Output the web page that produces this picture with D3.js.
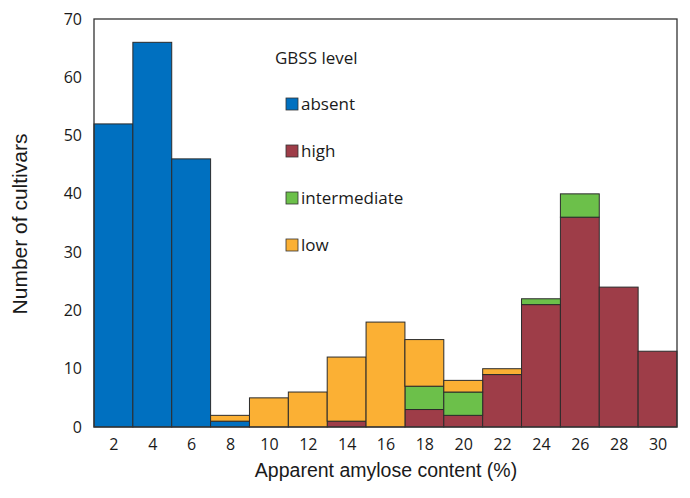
<!DOCTYPE html>
<html>
<head>
<meta charset="utf-8">
<script src="https://cdn.jsdelivr.net/npm/d3@7"></script>
<style>
  body { margin: 0; background: #fff; }
  text { fill: #1a1a1a; }
</style>
</head>
<body>
<svg id="chart" width="690" height="498"></svg>
<script>
// bin centres (amylose %) and counts per GBSS level
var bins = [2, 4, 6, 8, 10, 12, 14, 16, 18, 20, 22, 24, 26, 28, 30];
var absent       = [52, 66, 46, 1, 0, 0, 0, 0, 0, 0, 0, 0, 0, 0, 0];
var high         = [0, 0, 0, 0, 0, 0, 1, 0, 3, 2, 9, 21, 36, 24, 13];
var intermediate = [0, 0, 0, 0, 0, 0, 0, 0, 4, 4, 0, 1, 4, 0, 0];
var low          = [0, 0, 0, 1, 5, 6, 11, 18, 8, 2, 1, 0, 0, 0, 0];
var levels = ["absent", "high", "intermediate", "low"];
var colors = ["#0070c0", "#9e3d48", "#6cc04a", "#fbb034"];
var yTicks = [0, 10, 20, 30, 40, 50, 60, 70];

var svg = d3.select("#chart");
var plotL = 94, plotR = 677, plotT = 19, plotB = 427;

var x = d3.scaleLinear().domain([1, 31]).range([plotL, plotR]);
var y = d3.scaleLinear().domain([0, 70]).range([plotB, plotT]);

// build table for the stack
var table = bins.map(function(b, i) {
  return { bin: b, absent: absent[i], high: high[i], intermediate: intermediate[i], low: low[i] };
});
var series = d3.stack().keys(levels)(table);

series.forEach(function(s, k) {
  svg.append("g").selectAll("rect")
    .data(s.filter(function(d) { return d[1] > d[0]; }))
    .enter().append("rect")
    .attr("x", function(d) { return x(d.data.bin - 1); })
    .attr("width", function(d) { return x(d.data.bin + 1) - x(d.data.bin - 1); })
    .attr("y", function(d) { return y(d[1]); })
    .attr("height", function(d) { return y(d[0]) - y(d[1]); })
    .attr("fill", colors[k])
    .attr("stroke", "#2b2b2b")
    .attr("stroke-width", 1);
});

// frame
svg.append("rect")
  .attr("x", plotL).attr("y", plotT)
  .attr("width", plotR - plotL).attr("height", plotB - plotT)
  .attr("fill", "none").attr("stroke", "#333").attr("stroke-width", 1.3);

// axes (labels only)
var xAxis = d3.axisBottom(x).tickValues(bins).tickSize(0).tickPadding(12);
var gx = svg.append("g").attr("transform", "translate(0," + plotB + ")").call(xAxis);
gx.select(".domain").remove();
gx.selectAll("text").style("font-family", "Open Sans, sans-serif").style("font-size", "16px").attr("fill", "#1a1a1a");

var yAxis = d3.axisLeft(y).tickValues(yTicks).tickSize(0).tickPadding(12);
var gy = svg.append("g").attr("transform", "translate(" + plotL + ",0)").call(yAxis);
gy.select(".domain").remove();
gy.selectAll("text").style("font-family", "Open Sans, sans-serif").style("font-size", "16px").attr("fill", "#1a1a1a");

// axis titles
svg.append("text")
  .attr("x", 386).attr("y", 477)
  .attr("text-anchor", "middle")
  .style("font-family", "Liberation Sans, Arial, sans-serif").style("font-size", "19.5px")
  .text("Apparent amylose content (%)");

svg.append("text")
  .attr("transform", "translate(27,224) rotate(-90)")
  .attr("text-anchor", "middle")
  .style("font-family", "Liberation Sans, Arial, sans-serif").style("font-size", "21px")
  .text("Number of cultivars");

// legend
var legend = svg.append("g");
legend.append("text")
  .attr("x", 275).attr("y", 64)
  .style("font-family", "Open Sans, sans-serif").style("font-size", "17px")
  .text("GBSS level");
levels.forEach(function(lv, i) {
  var ly = 98 + i * 47;
  legend.append("rect")
    .attr("x", 286).attr("y", ly).attr("width", 12).attr("height", 12)
    .attr("fill", colors[i]).attr("stroke", "#333").attr("stroke-width", 0.8);
  legend.append("text")
    .attr("x", 301).attr("y", ly + 12)
    .style("font-family", "Open Sans, sans-serif").style("font-size", "17px")
    .text(lv);
});
</script>
</body>
</html>
